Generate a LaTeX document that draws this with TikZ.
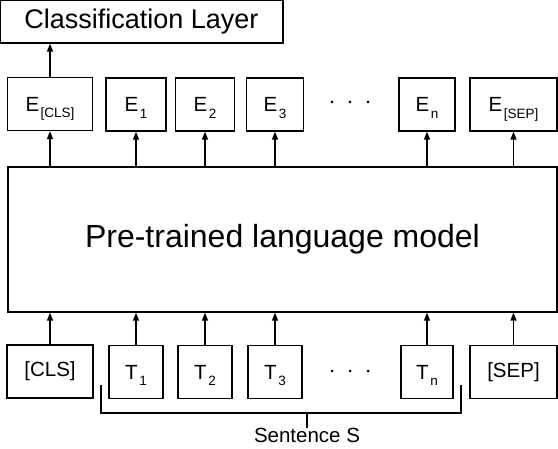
\documentclass[tikz,border=0pt]{standalone}
\usepackage{fontspec}
\setmainfont{Liberation Sans}
\usetikzlibrary{positioning,arrows.meta}
\newcommand{\lowsub}[1]{\hspace{1.5pt}\raisebox{-6.5pt}[0pt][0pt]{\fontsize{13.5}{14}\selectfont #1}}

\begin{document}
\begin{tikzpicture}[x=1pt,y=-1pt,line width=1.3pt,node distance=267.5pt,on grid,
    box/.style={draw,inner sep=0pt,minimum height=53pt,font=\fontsize{20.5}{24}\selectfont},
    up/.style={-{Triangle[length=8pt,width=6pt]}}]
        \useasboundingbox (0,0) rectangle (558,449);
        \node[draw,inner sep=0pt,minimum width=283pt,minimum height=43pt,font=\fontsize{27}{30}\selectfont] (cls_layer) at (141.5,21.5) {Classification Layer};
        \node[draw,inner sep=0pt,minimum width=549pt,minimum height=145pt,font=\fontsize{32}{36}\selectfont] (plm) at (282.5,239.5) {Pre-trained language model};
        % input tokens
        \node[box,minimum width=86pt] (t_cls) at (50,371.5) {[CLS]};
        \node[box,minimum width=54pt] (t_1) at (136,372) {T\lowsub{1}};
        \node[box,minimum width=54pt] (t_2) at (205,372) {T\lowsub{2}};
        \node[box,minimum width=54pt] (t_3) at (275,372) {T\lowsub{3}};
        \node[box,minimum width=52pt] (t_n) at (427,372) {T\lowsub{n}};
        \node[box,minimum width=87pt] (t_sep) at (513.5,372) {[SEP]};
        % output embeddings
        \node[box,minimum width=85pt] (e_cls) [above=of t_cls] {E\lowsub{[CLS]}};
        \node[box,minimum width=60pt] (e_1) [above=of t_1] {E\lowsub{1}};
        \node[box,minimum width=59pt] (e_2) [above=of t_2] {E\lowsub{2}};
        \node[box,minimum width=57pt] (e_3) [above=of t_3] {E\lowsub{3}};
        \node[box,minimum width=56pt] (e_n) [above=of t_n] {E\lowsub{n}};
        \node[box,minimum width=87pt] (e_sep) [above=of t_sep] {E\lowsub{[SEP]}};
        \foreach \x in {332,350,368} {
            \fill (\x,102) circle (1.5pt);
            \fill (\x,371) circle (1.5pt);
        }
        \foreach \t/\e in {t_cls/e_cls,t_1/e_1,t_2/e_2,t_3/e_3,t_n/e_n,t_sep/e_sep} {
            \draw[up] (\t) -- (\t |- plm.south);
            \draw[up] (plm.north -| \e) -- (\e);
        }
        \draw[up] (e_cls) -- (e_cls |- cls_layer.south);
        % sentence bracket
        \node[font=\fontsize{20.5}{24}\selectfont,inner sep=0pt,anchor=north] (sent) at (307,428) {Sentence S};
        \coordinate (br_l) at (101,385);
        \coordinate (br_r) at (461,385);
        \draw (br_l) |- (sent.north |- 0,413) -| (br_r);
        \draw (sent.north |- 0,413) -- (sent.north);
\end{tikzpicture}
\end{document}
